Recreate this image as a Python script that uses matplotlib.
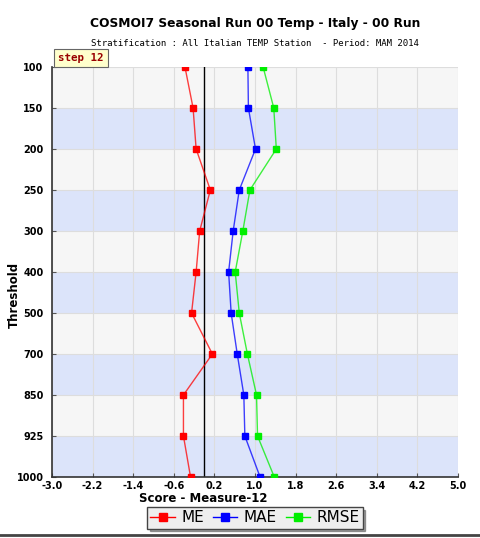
import matplotlib
matplotlib.use("Agg")
import matplotlib.pyplot as plt
from matplotlib.lines import Line2D
import numpy as np

levels = ['100', '150', '200', '250', '300', '400', '500', '700', '850', '925', '1000']
me = [-0.38, -0.22, -0.16, 0.12, -0.09, -0.16, -0.25, 0.16, -0.41, -0.41, -0.27]
mae = [0.86, 0.87, 1.01, 0.69, 0.57, 0.48, 0.53, 0.65, 0.78, 0.80, 1.10]
rmse = [1.16, 1.37, 1.42, 0.90, 0.76, 0.61, 0.69, 0.85, 1.03, 1.05, 1.38]
xticks = [-3.0, -2.2, -1.4, -0.6, 0.2, 1.0, 1.8, 2.6, 3.4, 4.2, 5.0]

fig = plt.figure(figsize=(4.81, 5.38), dpi=100)
ax = fig.add_axes([52/481, 1 - 477/538, 406/481, 410/538])

pos = np.arange(len(levels))
# alternating bands
for i in range(len(levels) - 1):
    col = '#f6f6f6' if i % 2 == 0 else '#dce4fa'
    ax.axhspan(i, i + 1, color=col, zorder=0, lw=0)
for p in pos:
    ax.axhline(p, color='#dddddd', lw=0.8, zorder=1)
for t in xticks:
    ax.axvline(t, color='#dddddd', lw=0.8, zorder=1)
ax.axvline(0, color='black', lw=1.0, zorder=2)

series = [(me, '#ff0000', 'ME'), (mae, '#0000ff', 'MAE'), (rmse, '#00ee00', 'RMSE')]
for vals, col, lab in series:
    ax.plot(vals, pos, color=col, lw=1.0, alpha=0.75, zorder=3)
    ax.plot(vals, pos, ls='none', marker='s', ms=4.5, color=col, zorder=4)

ax.set_xlim(-3.0, 5.0)
ax.set_ylim(len(levels) - 1, 0)
ax.set_xticks(xticks)
ax.set_xticklabels(['%.1f' % t for t in xticks], fontsize=7, fontweight='bold')
ax.set_yticks(pos)
ax.set_yticklabels(levels, fontsize=7, fontweight='bold')
ax.tick_params(direction='in', length=3, color='#555555', pad=3)
ax.tick_params(axis='y', pad=6)
for s in ['top', 'right']:
    ax.spines[s].set_visible(False)
for s in ['left', 'bottom']:
    ax.spines[s].set_color('#333333')
    ax.spines[s].set_linewidth(1.2)
ax.set_xlabel('Score - Measure-12', fontsize=8.5, fontweight='bold')
ax.xaxis.set_label_coords(0.372, -0.036)
ax.set_ylabel('Threshold', fontsize=8.5, fontweight='bold')
ax.yaxis.set_label_coords(-0.077, 0.444)

fig.text(0.53, 1 - 23/538, 'COSMOI7 Seasonal Run 00 Temp - Italy - 00 Run',
         ha='center', va='center', fontsize=8.8, fontweight='bold')
fig.text(0.53, 1 - 43/538, 'Stratification : All Italian TEMP Station  - Period: MAM 2014',
         ha='center', va='center', fontsize=6.5, family='DejaVu Sans Mono')
fig.text(58/481, 1 - 58/538, 'step 12', ha='left', va='center', fontsize=7.8,
         fontweight='bold', family='DejaVu Sans Mono', color='#990000',
         bbox=dict(boxstyle='square,pad=0.4', fc='#ffffcc', ec='#666666', lw=0.8))

handles = [Line2D([], [], color=c, marker='s', ms=6, lw=1.0, label=l) for _, c, l in series]
leg = fig.legend(handles=handles, loc='center', bbox_to_anchor=(255/481, 1 - 518/538),
                 ncol=3, fontsize=11, frameon=True, fancybox=False, shadow=True,
                 handlelength=1.6, handletextpad=0.4, columnspacing=0.6,
                 borderpad=0.2, edgecolor='#444444')
leg.get_frame().set_facecolor('#eeeeee')

fig.add_artist(Line2D([0, 1], [1 - 535/538, 1 - 535/538], color='#444444', lw=2,
                      transform=fig.transFigure))

fig.savefig('out.png', dpi=100)
